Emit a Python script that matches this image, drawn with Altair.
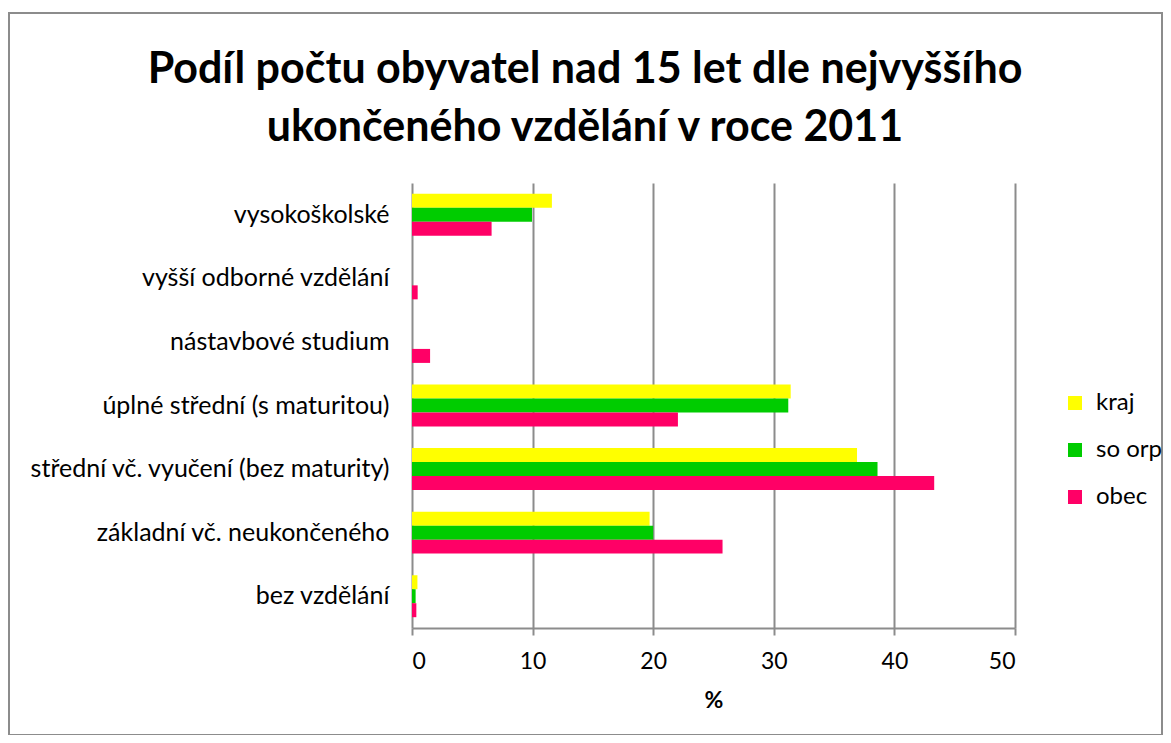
import altair as alt
import pandas as pd

title_lines = [
    "Podíl počtu obyvatel nad 15 let dle nejvyššího",
    "ukončeného vzdělání v roce 2011",
]
categories = [
    "vysokoškolské",
    "vyšší odborné vzdělání",
    "nástavbové studium",
    "úplné střední (s maturitou)",
    "střední vč. vyučení (bez maturity)",
    "základní vč. neukončeného",
    "bez vzdělání",
]
series = ["kraj", "so orp", "obec"]
colors = ["#FFFF00", "#00CC00", "#FF0066"]

kraj = [11.6, 0.0, 0.0, 31.4, 36.9, 19.7, 0.45]
so_orp = [9.95, 0.0, 0.0, 31.2, 38.6, 20.0, 0.3]
obec = [6.6, 0.47, 1.5, 22.05, 43.3, 25.75, 0.36]

rows = []
for s, vals in zip(series, [kraj, so_orp, obec]):
    for c, v in zip(categories, vals):
        rows.append({"kategorie": c, "rada": s, "hodnota": v})
df = pd.DataFrame(rows)

FONT = "Lato"
GRID = "#8C8C8C"

bars = alt.Chart(df).mark_bar().encode(
    x=alt.X(
        "hodnota:Q",
        scale=alt.Scale(domain=[0, 50], nice=False),
        axis=alt.Axis(
            title="%",
            values=[0, 10, 20, 30, 40, 50],
            grid=True,
            gridColor=GRID,
            gridWidth=2,
            domainColor=GRID,
            domainWidth=2,
            tickColor=GRID,
            tickWidth=2,
            tickSize=7,
            labelPadding=15,
            labelFontSize=23,
            labelFont=FONT,
            labelColor="#000000",
            titleFont=FONT,
            titleFontSize=23,
            titleFontWeight="bold",
            titleColor="#000000",
            titlePadding=16,
        ),
    ),
    y=alt.Y(
        "kategorie:N",
        sort=categories,
        scale=alt.Scale(paddingInner=0.34, paddingOuter=0.17),
        axis=alt.Axis(
            title=None,
            domain=False,
            ticks=False,
            labelPadding=23,
            labelFontSize=25,
            labelFont=FONT,
            labelColor="#000000",
            labelLimit=500,
        ),
    ),
    yOffset=alt.YOffset(
        "rada:N", sort=series, scale=alt.Scale(paddingInner=0, paddingOuter=0)
    ),
    color=alt.Color(
        "rada:N",
        sort=series,
        scale=alt.Scale(domain=series, range=colors),
        legend=alt.Legend(
            title=None,
            orient="none",
            legendX=651,
            legendY=208,
            symbolType="square",
            symbolSize=196,
            symbolStrokeWidth=0,
            symbolOpacity=1,
            labelFont=FONT,
            labelFontSize=24,
            labelColor="#000000",
            rowPadding=23,
            labelOffset=9,
        ),
    ),
)

frame = alt.Chart(pd.DataFrame({"a": [0]})).mark_rect(
    fill=None, stroke="#8C8C8C", strokeWidth=2, clip=False
).encode(
    x=alt.value(-403), x2=alt.value(750), y=alt.value(-170), y2=alt.value(552)
)

title_style = dict(
    font=FONT, fontSize=43, fontWeight="bold", color="#000000",
    align="center", baseline="alphabetic", clip=False,
)
title1 = alt.Chart(pd.DataFrame({"t": [title_lines[0]]})).mark_text(**title_style).encode(
    text="t:N", x=alt.value(173), y=alt.value(-100)
)
title2 = alt.Chart(pd.DataFrame({"t": [title_lines[1]]})).mark_text(**title_style).encode(
    text="t:N", x=alt.value(173), y=alt.value(-42)
)

chart = (
    alt.layer(frame, bars, title1, title2)
    .properties(
        width=603,
        height=445,
        padding={"left": 404, "top": 175, "right": 148, "bottom": 107},
        autosize=alt.AutoSizeParams(type="none"),
    )
    .configure_view(stroke=None)
)

chart.save("out.html", embed_options={"renderer": "svg", "actions": False})
